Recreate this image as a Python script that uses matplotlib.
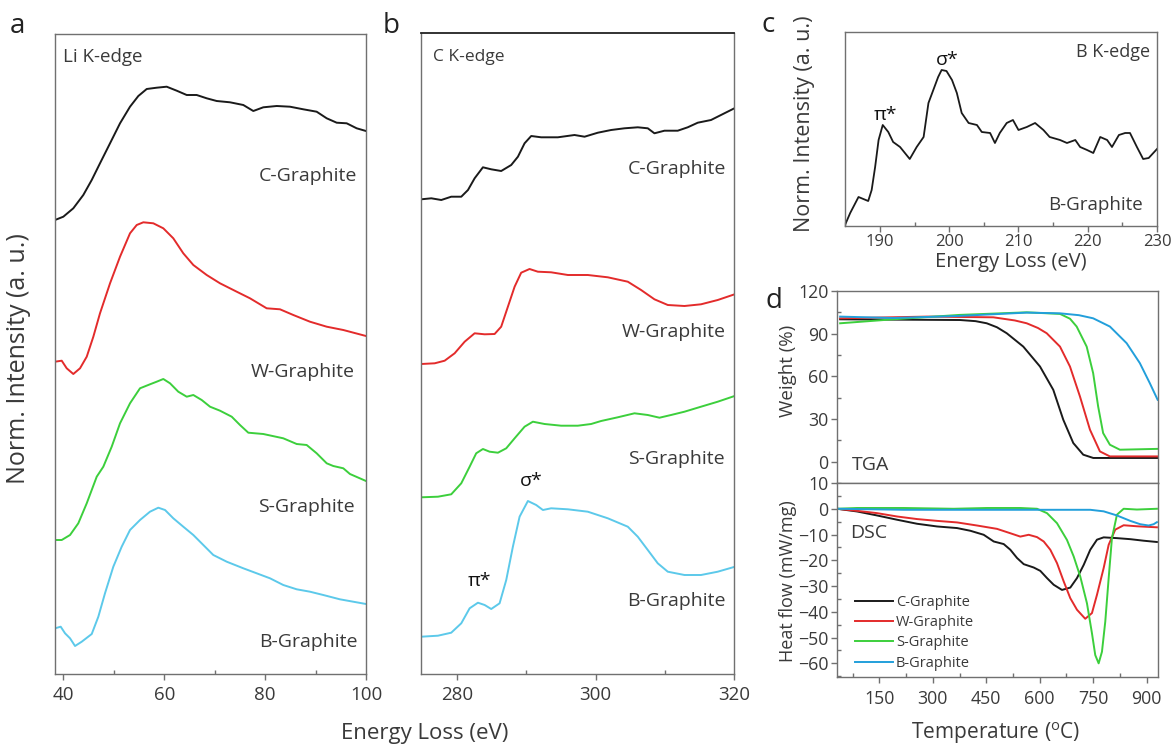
import matplotlib
matplotlib.use("Agg")
import matplotlib.pyplot as plt
from matplotlib.ticker import MultipleLocator, NullLocator

plt.rcParams['font.family'] = ['Open Sans', 'DejaVu Sans']
plt.rcParams['mathtext.fontset'] = 'custom'
plt.rcParams['mathtext.rm'] = 'Open Sans'
TXT = '#3a3a3a'
SPINE = '#707070'

# ---------------- Panel a: Li K-edge ----------------
li_c_x = [38.35, 40.0, 41.98, 43.96, 45.63, 47.27, 49.26, 51.24, 53.22, 54.87, 56.53, 58.51, 60.49, 62.48,
          64.46, 66.44, 68.42, 70.40, 73.04, 75.68, 77.66, 79.64, 82.30, 84.93, 87.57, 90.22, 92.21, 94.19,
          96.17, 98.15, 100.0]
li_c_y = [454, 457.3, 465.7, 479, 494, 510.7, 530.7, 550.7, 567.3, 578, 585, 586.3, 587.3, 583.3,
          579, 579, 575.7, 573, 571.7, 569, 563, 566.7, 568, 567.3, 564.7, 562.3, 555.7, 551.3,
          550.7, 545.7, 543]
li_w_x = [38.35, 39.68, 40.67, 41.98, 43.31, 44.64, 45.95, 47.27, 49.26, 51.24, 53.22, 54.55, 55.86, 57.84,
          59.82, 61.80, 63.78, 65.77, 68.42, 71.06, 74.37, 77.00, 80.31, 82.95, 85.59, 88.89, 92.21, 95.50,
          100.0]
li_w_y = [312.3, 313.3, 305.7, 300, 305.7, 317.3, 337.3, 360.7, 390.7, 417.3, 440.7, 449, 451.7, 450.7,
          445.7, 435.7, 420.7, 409, 399, 390.7, 382.3, 375.7, 365.7, 364.7, 359, 352.3, 347.3, 344,
          338]
li_s_x = [38.35, 39.68, 41.33, 42.97, 44.64, 46.62, 47.93, 49.59, 51.24, 53.22, 55.20, 57.18, 58.51, 59.82,
          61.15, 62.79, 64.46, 65.77, 67.43, 69.08, 71.06, 73.38, 75.02, 76.67, 79.64, 83.60, 86.26, 88.24,
          90.22, 92.21, 93.51, 95.50, 96.82, 100.0]
li_s_y = [134, 134, 139, 150.7, 170.7, 197.3, 207.3, 227.3, 250.7, 270.7, 285.7, 289.7, 292.3, 295,
          290.7, 282.3, 277.3, 279, 274, 267.3, 263.3, 257.3, 249, 241.3, 240, 235.7, 230, 229,
          220.7, 210.7, 208, 205.7, 200, 193]
li_b_x = [38.35, 39.48, 40.34, 41.33, 42.32, 43.65, 45.63, 46.94, 48.26, 49.91, 51.57, 53.22, 55.20, 57.18,
          58.83, 60.16, 61.80, 63.78, 65.77, 67.75, 69.73, 72.39, 75.68, 78.33, 80.97, 83.60, 86.26, 88.89,
          91.53, 94.82, 100.0]
li_b_y = [45.7, 47.3, 40.7, 35.7, 28, 32.3, 40, 57.3, 80.7, 107.3, 127.3, 144, 154, 162.3,
          166.3, 164, 155.7, 147.3, 139, 129, 119, 112.3, 105.7, 100.7, 95.7, 89, 84.7, 82.3,
          79, 74.7, 70]

# ---------------- Panel b: C K-edge ----------------
ck_c_x = [274.80, 276.25, 277.69, 279.13, 280.58, 281.55, 282.51, 283.71, 284.91, 286.35, 287.80, 288.77,
          289.73, 290.69, 292.13, 294.54, 296.95, 298.40, 300.32, 302.24, 304.17, 306.09, 307.54, 308.50,
          309.95, 311.87, 313.31, 314.76, 316.68, 318.61, 320.0]
ck_c_y = [474.7, 475.7, 474, 477.3, 477.3, 484, 495.7, 506.7, 504.7, 503, 509, 517.3,
          530.7, 538, 536.7, 536.7, 539, 537.3, 541.3, 544, 545.7, 546.7, 545.7, 540.7,
          543.3, 543.3, 546.7, 551.3, 554, 560.7, 565.5]
ck_w_x = [274.80, 276.74, 278.18, 279.62, 281.07, 282.51, 283.96, 285.40, 286.35, 287.32, 288.29, 289.24,
          290.45, 291.65, 293.57, 295.99, 298.87, 301.76, 304.65, 306.57, 308.50, 310.43, 312.84, 315.23,
          317.65, 320.0]
ck_w_y = [310, 310.7, 313.3, 320.7, 332.3, 340.7, 339.7, 340, 347.3, 367.3, 387.3, 401.3,
          405, 402.3, 401.7, 399, 399, 396.7, 392.3, 384, 374.7, 369, 368, 369.7,
          374, 379.5]
ck_s_x = [274.80, 277.21, 279.13, 280.58, 281.79, 282.74, 283.71, 284.68, 285.88, 287.08, 288.29, 289.73,
          290.93, 292.62, 295.02, 297.43, 299.35, 300.79, 303.20, 305.62, 307.54, 309.23, 310.90, 312.84,
          315.23, 317.65, 320.0]
ck_s_y = [176.7, 177.3, 179.7, 190.7, 207.3, 220.7, 225, 222.3, 221.3, 225.7, 235.7, 247.3,
          252.3, 250, 248.3, 248.3, 250, 253, 256.7, 260.7, 259, 256.3, 259, 262.3,
          267.3, 272.3, 277.8]
ck_b_x = [274.80, 277.21, 279.13, 280.58, 281.79, 282.99, 283.96, 284.91, 286.12, 287.08, 288.04, 289.01,
          290.21, 291.41, 292.38, 293.57, 295.99, 298.87, 301.76, 304.65, 306.09, 307.54, 308.98, 310.43,
          312.84, 315.23, 317.65, 320.0]
ck_b_y = [37.3, 38.3, 41.3, 50.7, 65.7, 71.3, 69, 65, 70.7, 94, 127.3, 157.3,
          173, 169, 164, 165.7, 164.7, 162.3, 155.7, 147.3, 137.3, 124, 110.7, 102.3,
          99, 99, 102.3, 107]

# ---------------- Panel c: B K-edge ----------------
bk_x = [184.95, 185.7, 186.9, 187.6, 188.3, 188.8, 189.3, 189.8, 190.4, 191.2, 191.9, 192.9, 193.6, 194.3,
        195.3, 196.3, 197.0, 197.7, 198.4, 198.9, 199.6, 200.4, 201.1, 201.8, 202.8, 204.0, 204.7, 205.9,
        206.6, 207.3, 208.3, 209.2, 210.0, 211.2, 212.4, 213.6, 214.5, 216.0, 217.0, 218.2, 218.9, 219.9,
        220.8, 221.8, 222.8, 223.5, 224.5, 225.4, 226.1, 227.1, 228.0, 228.8, 230.0]
bk_y = [1, 13, 29, 27, 25, 36, 59, 86, 101, 94, 84, 79, 73, 67,
        79, 89, 123, 136, 149, 156, 155, 146, 133, 113, 103, 101, 94, 93,
        83, 93, 103, 106, 96, 99, 103, 96, 89, 86, 83, 86, 79, 76,
        73, 89, 86, 79, 91, 93, 93, 79, 67, 68, 77]

# ---------------- Panel d: TGA ----------------
tga_c_t = [39.8, 376.4, 420, 451.3, 480, 507.4, 553.9, 600.8, 638.1, 666.1, 694.2, 722.2, 750.3, 931]
tga_c_w = [100.1, 99.6, 98.8, 97.3, 94.5, 90.3, 80.9, 66.9, 50.5, 29.5, 13.1, 4.9, 2.6, 2.6]
tga_w_t = [39.8, 283, 469.8, 530, 563.5, 595, 619.6, 656.9, 684.9, 713, 741, 769, 797, 931]
tga_w_w = [100.8, 102, 101.5, 99.3, 97.3, 94.0, 90.3, 80.9, 66.9, 45.8, 22.5, 7.2, 3.7, 3.7]
tga_s_t = [39.8, 189, 376, 563.5, 657, 685, 703.7, 731.8, 750, 764, 778, 797, 825, 931]
tga_s_w = [97.3, 100.1, 103.2, 105, 103.9, 100.5, 95, 80.9, 62.2, 38.8, 20.1, 11.9, 8.4, 9]
tga_b_t = [39.8, 189, 376, 563.5, 657, 710, 750, 797, 844, 881, 909, 931]
tga_b_w = [102, 101, 102.5, 104.8, 104.3, 103.0, 100.8, 95, 83.3, 69.3, 55.2, 43.5]

# ---------------- Panel d: DSC ----------------
dsc_c_t = [31.3, 87.4, 143.5, 199.6, 255.7, 311.8, 367.9, 405.3, 442.8, 470.9, 498.9, 517.5, 536.3, 555.1,
           583.1, 601.6, 620.4, 639.2, 662.5, 685.8, 704.6, 723.4, 741.9, 760.7, 779.5, 816.8, 854.1, 891.7,
           929.0]
dsc_c_h = [0.0, -1.05, -2.6, -4.26, -5.82, -6.87, -7.49, -8.54, -10.1, -12.7, -13.7, -15.9, -19.1, -21.5,
           -22.8, -24.1, -26.9, -29.5, -31.5, -30.6, -26.9, -21.8, -15.9, -12.0, -11.1, -11.4, -11.8, -12.4,
           -12.9]
dsc_w_t = [31.3, 87.4, 143.5, 199.6, 255.7, 311.8, 367.9, 424.0, 480.1, 517.5, 545.5, 569.1, 592.4, 611.2,
           629.7, 648.5, 667.3, 685.8, 704.6, 727.8, 746.6, 760.7, 779.5, 793.5, 812.0, 835.6, 872.9, 929.0]
dsc_w_h = [0.0, -0.8, -1.7, -3.0, -4.0, -4.7, -5.3, -6.5, -7.8, -9.5, -10.8, -10.1, -11.0, -12.7,
           -15.9, -21.1, -28.2, -34.7, -39.2, -42.7, -40.5, -33.4, -23.0, -14.0, -8.1, -6.4, -6.8, -7.2]
dsc_s_t = [31.3, 87.4, 218.4, 358.7, 452.0, 545.5, 592.4, 620.4, 648.5, 676.5, 695.3, 713.8, 732.6, 746.6,
           755.9, 765.4, 774.7, 784.0, 793.5, 802.7, 816.8, 835.6, 872.9, 929.0]
dsc_s_h = [0.0, 0.3, 0.3, 0.0, 0.3, 0.3, 0.0, -1.7, -5.6, -12.1, -18.5, -26.3, -36.7, -48.3,
           -56.8, -60.0, -55.5, -43.8, -27.0, -11.4, -2.3, 0.0, -0.3, 0.0]
dsc_b_t = [31.3, 218.4, 405.3, 592.4, 685.8, 741.9, 779.5, 816.8, 854.1, 882.2, 905.7, 919.7, 929.0]
dsc_b_h = [0.0, -0.4, -0.4, -0.4, -0.4, -0.4, -1.0, -2.6, -4.7, -6.0, -6.5, -6.0, -5.2]

sample_names = ['C-Graphite', 'W-Graphite', 'S-Graphite', 'B-Graphite']
col_k, col_r, col_g = '#1a1a1a', '#e32b2b', '#3ccf3c'
col_cy = '#5cc9ea'
col_bl = '#229fdb'

W, H = 1175, 745
fig = plt.figure(figsize=(W / 100, H / 100), dpi=100)


def rect(l, t, r, b):
    return [l / W, 1 - b / H, (r - l) / W, (b - t) / H]


def fx(px):
    return px / W


def fy(py):
    return 1 - py / H


def style(ax):
    for s in ax.spines.values():
        s.set_color(SPINE)
        s.set_linewidth(1.0)
    ax.tick_params(which='major', direction='out', length=4, width=1, color=SPINE, labelcolor=TXT)
    ax.tick_params(which='minor', direction='in', length=3, width=1, color=SPINE)


lw = 1.4

# Panel a
axa = fig.add_axes(rect(55, 34, 366, 674))
style(axa)
for x, y, c in [(li_c_x, li_c_y, col_k), (li_w_x, li_w_y, col_r), (li_s_x, li_s_y, col_g), (li_b_x, li_b_y, col_cy)]:
    axa.plot(x, y, color=c, lw=lw)
axa.set_xlim(38.35, 100)
axa.set_ylim(0, 640)
axa.yaxis.set_major_locator(NullLocator())
axa.xaxis.set_major_locator(MultipleLocator(20))
axa.xaxis.set_minor_locator(MultipleLocator(10))
axa.tick_params(axis='x', labelsize=13.5, pad=5)
fig.text(fx(63), fy(57), 'Li K-edge', fontsize=13.5, color=TXT, va='center', ha='left')
labels_a = [(357, 176), (355, 372), (355, 507), (358, 642)]
for lab, (px, py) in zip(sample_names, labels_a):
    fig.text(fx(px), fy(py), lab, fontsize=14, color=TXT, ha='right', va='center')

# Panel b
axb = fig.add_axes(rect(421, 33, 734, 674))
style(axb)
axb.spines['top'].set_color('#222222')
axb.spines['top'].set_linewidth(1.3)
for x, y, c in [(ck_c_x, ck_c_y, col_k), (ck_w_x, ck_w_y, col_r), (ck_s_x, ck_s_y, col_g), (ck_b_x, ck_b_y, col_cy)]:
    axb.plot(x, y, color=c, lw=lw)
axb.set_xlim(274.76, 320)
axb.set_ylim(0, 641)
axb.yaxis.set_major_locator(NullLocator())
axb.xaxis.set_major_locator(MultipleLocator(20))
axb.xaxis.set_minor_locator(MultipleLocator(10))
axb.tick_params(axis='x', labelsize=13.5, pad=5)
fig.text(fx(433), fy(57), 'C K-edge', fontsize=12.5, color=TXT, ha='left', va='center')
labels_b = [(726, 169), (726, 332), (725, 459), (726, 601)]
for lab, (px, py) in zip(sample_names, labels_b):
    fig.text(fx(px), fy(py), lab, fontsize=14, color=TXT, ha='right', va='center')
fig.text(fx(531), fy(481), 'σ*', fontsize=14, color='#111111', ha='center', va='center')
fig.text(fx(480), fy(581), 'π*', fontsize=14, color='#111111', ha='center', va='center')

fig.text(fx(425), fy(733), 'Energy Loss (eV)', fontsize=16, color=TXT, ha='center', va='center')
fig.text(fx(19), fy(359), 'Norm. Intensity (a. u.)', fontsize=18, color=TXT, ha='center', va='center',
         rotation=90)

# Panel c
axc = fig.add_axes(rect(845, 32, 1157, 226))
style(axc)
axc.plot(bk_x, bk_y, color=col_k, lw=1.3)
axc.set_xlim(184.95, 230)
axc.set_ylim(0, 194)
axc.yaxis.set_major_locator(NullLocator())
axc.xaxis.set_major_locator(MultipleLocator(10))
axc.xaxis.set_minor_locator(MultipleLocator(5))
axc.tick_params(axis='x', labelsize=12, pad=1.5)
fig.text(fx(1011), fy(262), 'Energy Loss (eV)', fontsize=14.5, color=TXT, ha='center', va='center')
fig.text(fx(1150), fy(52), 'B K-edge', fontsize=13, color=TXT, ha='right', va='center')
fig.text(fx(1143), fy(205), 'B-Graphite', fontsize=13.5, color=TXT, ha='right', va='center')
fig.text(fx(947), fy(60), 'σ*', fontsize=14, color='#111111', ha='center', va='center')
fig.text(fx(885), fy(115), 'π*', fontsize=14, color='#111111', ha='center', va='center')
fig.text(fx(804), fy(124), 'Norm. Intensity (a. u.)', fontsize=15.5, color=TXT, ha='center', va='center',
         rotation=90)

# Panel d TGA
axt = fig.add_axes(rect(837, 291, 1158, 483))
style(axt)
for x, y, c in [(tga_c_t, tga_c_w, col_k), (tga_w_t, tga_w_w, col_r), (tga_s_t, tga_s_w, col_g),
                (tga_b_t, tga_b_w, col_bl)]:
    axt.plot(x, y, color=c, lw=1.4)
axt.set_xlim(31, 932)
axt.set_ylim(-15, 120)
axt.yaxis.set_major_locator(MultipleLocator(30))
axt.yaxis.set_minor_locator(MultipleLocator(15))
axt.xaxis.set_major_locator(MultipleLocator(150))
axt.xaxis.set_minor_locator(MultipleLocator(75))
axt.tick_params(axis='x', labelbottom=False, length=0, which='both')
axt.tick_params(axis='y', labelsize=12.8, pad=2)
fig.text(fx(788), fy(371), 'Weight (%)', fontsize=13.5, color=TXT, ha='center', va='center', rotation=90)
fig.text(fx(852), fy(465), 'TGA', fontsize=14, color=TXT, ha='left', va='center')

# Panel d DSC
axd = fig.add_axes(rect(837, 483, 1158, 677))
style(axd)
for x, y, c, n in [(dsc_c_t, dsc_c_h, col_k, sample_names[0]), (dsc_w_t, dsc_w_h, col_r, sample_names[1]),
                   (dsc_s_t, dsc_s_h, col_g, sample_names[2]), (dsc_b_t, dsc_b_h, col_bl, sample_names[3])]:
    axd.plot(x, y, color=c, lw=1.4, label=n)
axd.set_xlim(31, 932)
axd.set_ylim(-65.3, 10)
axd.yaxis.set_major_locator(MultipleLocator(10))
axd.yaxis.set_minor_locator(MultipleLocator(5))
axd.xaxis.set_major_locator(MultipleLocator(150))
axd.xaxis.set_minor_locator(MultipleLocator(75))
axd.tick_params(axis='y', labelsize=12.8, pad=2)
axd.tick_params(axis='x', labelsize=12.8, pad=5)
fig.text(fx(788), fy(581), 'Heat flow (mW/mg)', fontsize=13, color=TXT, ha='center', va='center', rotation=90)
fig.text(fx(996), fy(733), 'Temperature ($\\mathregular{^{o}}$C)', fontsize=15, color=TXT, ha='center',
         va='center')
fig.text(fx(850), fy(533), 'DSC', fontsize=14, color=TXT, ha='left', va='center')
leg = axd.legend(loc='upper left', bbox_to_anchor=((855 - 837) / 321, 1 - (595 - 483) / 194), frameon=False,
                 fontsize=10.5, handlelength=2.6, handletextpad=0.2, labelspacing=0.36, borderaxespad=0,
                 borderpad=0)
for t in leg.get_texts():
    t.set_color(TXT)

# panel letters
for letter, px, py in [('a', 17.5, 33), ('b', 391, 33), ('c', 768.5, 32), ('d', 773.5, 308)]:
    fig.text(fx(px), fy(py), letter, fontsize=20, color='#222222', ha='center', va='baseline')

fig.savefig('out.png', dpi=100)
